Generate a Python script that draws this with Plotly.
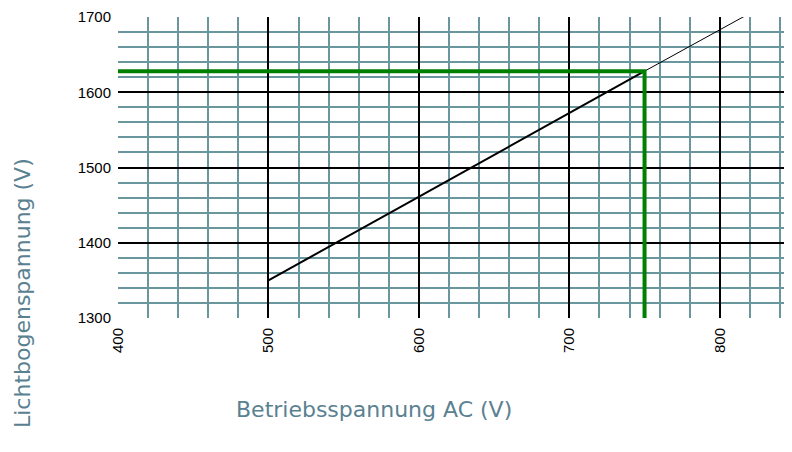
import plotly.graph_objects as go

# Data
arc_x = [500, 750]
arc_y = [1350, 1628]
ext_x = [750, 850]
ext_y = [1628, 1738]
mark_x = [400, 750, 750]
mark_y = [1628, 1628, 1300]
x_ticks = [400, 500, 600, 700, 800]
y_ticks = [1300, 1400, 1500, 1600, 1700]

MINOR = "#6a979e"
TITLE = "#5a8191"

# page body has 8px default margin -> compensate
OFF = 8
L, T, B_ = 118 - OFF, 17 - OFF, 318 - OFF
R_ = 792 - OFF

fig = go.Figure()
fig.add_trace(go.Scatter(x=ext_x, y=ext_y, mode="lines",
                         line=dict(color="black", width=1), hoverinfo="skip"))
fig.add_trace(go.Scatter(x=arc_x, y=arc_y, mode="lines",
                         line=dict(color="black", width=2), hoverinfo="skip"))
fig.add_trace(go.Scatter(x=mark_x, y=mark_y, mode="lines",
                         line=dict(color="#008000", width=4), hoverinfo="skip"))

pw = R_ - L
ph = B_ - T

fig.update_layout(
    width=792, height=452,
    margin=dict(l=L, r=792 - R_, t=T, b=452 - B_, autoexpand=False),
    plot_bgcolor="white", paper_bgcolor="white",
    showlegend=False,
    font=dict(family="Liberation Sans, Arial", size=15, color="black"),
    xaxis=dict(range=[400, 848], tickvals=x_ticks, ticktext=[str(v) for v in x_ticks],
               tickangle=-90, showgrid=True, gridcolor="black", gridwidth=1.5,
               zeroline=False, showline=False, ticks="", automargin=False,
               ticklabelstandoff=6,
               minor=dict(dtick=20, tick0=400, showgrid=True, gridcolor=MINOR, gridwidth=1.7),
               tickfont=dict(size=15, color="black"), fixedrange=True),
    yaxis=dict(range=[1300, 1700], tickvals=y_ticks, ticktext=[str(v) for v in y_ticks],
               showgrid=True, gridcolor="black", gridwidth=1.5,
               zeroline=False, showline=False, ticks="", automargin=False,
               ticklabelstandoff=6,
               minor=dict(dtick=20, tick0=1300, showgrid=True, gridcolor=MINOR, gridwidth=1.7),
               tickfont=dict(size=15, color="black"), fixedrange=True),
    annotations=[
        dict(text="Betriebsspannung AC (V)", xref="paper", yref="paper",
             x=(374 - 118) / pw, y=-(409 - 318) / ph, xanchor="center", yanchor="middle",
             showarrow=False,
             font=dict(family="DejaVu Sans", size=22, color=TITLE)),
        dict(text="Lichtbogenspannung (V)", xref="paper", yref="paper",
             x=(22 - 118) / pw, y=(318 - 293) / ph, xanchor="center", yanchor="middle",
             textangle=-90, showarrow=False,
             font=dict(family="DejaVu Sans", size=22, color=TITLE)),
    ],
)

fig.write_html("out.html")
